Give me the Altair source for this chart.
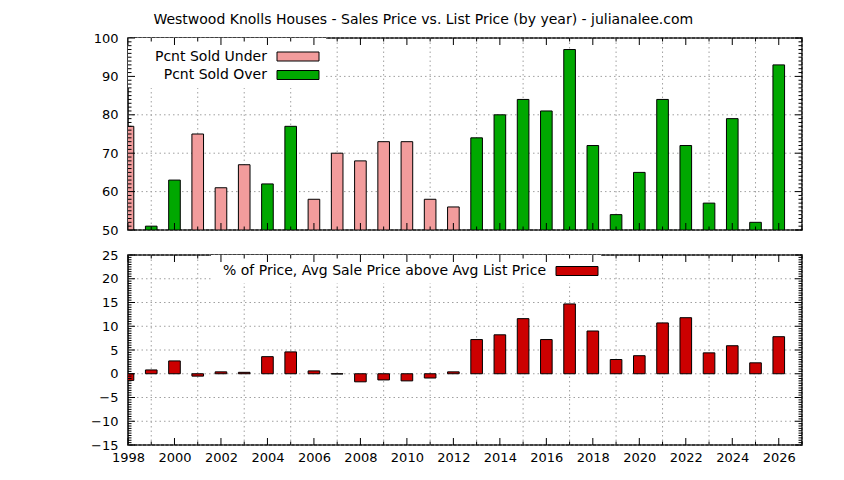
import altair as alt
import pandas as pd

# ---------------- data ----------------
years = list(range(1998, 2027))
sold_pct = [77, 51, 63, 75, 61, 67, 62, 77, 58, 70, 68, 73, 73, 58, 56,
            74, 80, 84, 81, 97, 72, 54, 65, 84, 72, 57, 79, 52, 93]
U, O = "Pcnt Sold Under", "Pcnt Sold Over"
sold_kind = [U, O, O, U, U, U, O, O, U, U, U, U, U, U, U,
             O, O, O, O, O, O, O, O, O, O, O, O, O, O]
avg_above = [-1.4, 0.8, 2.7, -0.5, 0.4, 0.3, 3.6, 4.6, 0.6, -0.05, -1.7, -1.3, -1.5, -0.9, 0.4,
             7.2, 8.2, 11.6, 7.2, 14.7, 9.0, 3.0, 3.8, 10.7, 11.8, 4.4, 5.9, 2.3, 7.8]
bottom_series = "% of Price, Avg Sale Price above Avg List Price"
title_text = "Westwood Knolls Houses - Sales Price vs. List Price (by year) - julianalee.com"

x_major = list(range(1998, 2027, 2))
x_minor = list(range(1999, 2028, 2))
top_y_major = list(range(50, 101, 10))
top_y_minor = [v for v in range(50, 101) if v % 10]
bot_y_major = list(range(-15, 26, 5))
bot_y_minor = [v / 2 for v in range(-30, 51) if v % 10]

# ---------------- styles ----------------
FONT = "DejaVu Sans"
W = 674
H_TOP = 192
H_BOT = 190
C_UNDER = "#f29c9c"
C_OVER = "#00a800"
C_RED = "#cc0000"
GRID = "#a0a0a0"

df_top = pd.DataFrame({"year": years, "pct": sold_pct, "kind": sold_kind})
df_bot = pd.DataFrame({"year": years, "val": avg_above})

xs = alt.Scale(domain=[1998, 2027], nice=False, zero=False)
fill_scale = alt.Scale(domain=[U, O], range=[C_UNDER, C_OVER])


def yaxis(vals):
    return alt.Axis(values=vals, labelPadding=10, minExtent=114, maxExtent=114, title=None,
                    ticks=False, domain=False, grid=False, format="d")


bot_x_axis = alt.Axis(values=x_major, format="d", labelPadding=6, ticks=False, title=None,
                      domain=False, grid=False, labelFlush=False)


def vrule(vals, H, xaxis, **mk):
    return alt.Chart(pd.DataFrame({"year": vals})).mark_rule(**mk).encode(
        x=alt.X("year:Q", scale=xs, axis=xaxis),
        y=alt.value(0), y2=alt.value(H))


def hrule(vals, ys, yax, **mk):
    return alt.Chart(pd.DataFrame({"v": vals})).mark_rule(**mk).encode(
        y=alt.Y("v:Q", scale=ys, axis=yax),
        x=alt.value(0), x2=alt.value(W))


def grid_layers(ys, y_major, H, xaxis, yax):
    return [
        vrule(x_minor, H, xaxis, color=GRID, strokeDash=[1.5, 3], strokeWidth=1),
        hrule(y_major, ys, yax, color=GRID, strokeDash=[1.5, 3], strokeWidth=1),
    ]


def border_ticks(ys, y_major, y_minor, H, xaxis, yax):
    return [
        vrule(x_major, H, xaxis, color="black", strokeWidth=1, strokeDash=[7, H - 14, 7, 0]),
        vrule(x_minor, H, xaxis, color="black", strokeWidth=1, strokeDash=[3.5, H - 7, 3.5, 0]),
        hrule(y_major, ys, yax, color="black", strokeWidth=1, strokeDash=[7, W - 14, 7, 0]),
        hrule(y_minor, ys, yax, color="black", strokeWidth=1, strokeDash=[3.5, W - 7, 3.5, 0]),
    ]


# ---------------- top panel ----------------
ys_top = alt.Scale(domain=[50, 100], nice=False, zero=False)
top_y_axis = yaxis(top_y_major)

top_legend_bg = alt.Chart(pd.DataFrame({"k": [1]})).mark_rect(fill="white").encode(
    x=alt.value(0), x2=alt.value(198), y=alt.value(0), y2=alt.value(50))

bars_top = alt.Chart(df_top).transform_calculate(
    x0="datum.year - 0.25", x1="datum.year + 0.25", base="50"
).mark_rect(stroke="black", strokeWidth=1, clip=True).encode(
    x=alt.X("x0:Q", scale=xs, axis=None),
    x2=alt.X2("x1"),
    y=alt.Y("pct:Q", scale=ys_top, axis=top_y_axis),
    y2=alt.Y2("base"),
    fill=alt.Fill("kind:N", scale=fill_scale, legend=None),
)

top_legend = []
for i, (name, col) in enumerate([(U, C_UNDER), (O, C_OVER)]):
    d = pd.DataFrame({"kind": [name]})
    yc = 18.5 + i * 18.5
    top_legend.append(alt.Chart(d).mark_text(
        align="right", baseline="middle", font=FONT, fontSize=14, color="black").encode(
        x=alt.value(139), y=alt.value(yc), text="kind:N"))
    top_legend.append(alt.Chart(d).mark_rect(stroke="black", strokeWidth=1, fill=col).encode(
        x=alt.value(149), x2=alt.value(191), y=alt.value(yc - 4.5), y2=alt.value(yc + 4.5)))

top = alt.layer(
    *grid_layers(ys_top, top_y_major, H_TOP, None, top_y_axis), top_legend_bg, bars_top,
    *border_ticks(ys_top, top_y_major, top_y_minor, H_TOP, None, top_y_axis), *top_legend
).properties(width=W, height=H_TOP)

# ---------------- bottom panel ----------------
ys_bot = alt.Scale(domain=[-15, 25], nice=False, zero=False)
bot_y_axis = yaxis(bot_y_major)

bot_legend_bg = alt.Chart(pd.DataFrame({"k": [1]})).mark_rect(fill="white").encode(
    x=alt.value(83), x2=alt.value(473), y=alt.value(0), y2=alt.value(28))

bars_bot = alt.Chart(df_bot).transform_calculate(
    x0="datum.year - 0.25", x1="datum.year + 0.25", base="0"
).mark_rect(stroke="black", strokeWidth=1, clip=True, fill=C_RED).encode(
    x=alt.X("x0:Q", scale=xs, axis=bot_x_axis),
    x2=alt.X2("x1"),
    y=alt.Y("val:Q", scale=ys_bot, axis=bot_y_axis),
    y2=alt.Y2("base"),
)

leg_bot = pd.DataFrame({"name": [bottom_series]})
leg_bot_text = alt.Chart(leg_bot).mark_text(
    align="right", baseline="middle", font=FONT, fontSize=14, color="black").encode(
    x=alt.value(418), y=alt.value(16), text="name:N")
leg_bot_sw = alt.Chart(leg_bot).mark_rect(stroke="black", strokeWidth=1, fill=C_RED).encode(
    x=alt.value(428), x2=alt.value(470), y=alt.value(11.5), y2=alt.value(20.5))

bottom = alt.layer(
    *grid_layers(ys_bot, bot_y_major, H_BOT, bot_x_axis, bot_y_axis), bot_legend_bg, bars_bot,
    *border_ticks(ys_bot, bot_y_major, bot_y_minor, H_BOT, bot_x_axis, bot_y_axis),
    leg_bot_text, leg_bot_sw
).properties(width=W, height=H_BOT)

chart = alt.vconcat(top, bottom, spacing=10).properties(
    title=alt.TitleParams(title_text, anchor="middle", dx=15, font=FONT, fontSize=14,
                          fontWeight="normal", color="black", offset=4),
).configure_view(stroke="black", strokeWidth=1.5).configure_axis(
    labelFont=FONT, labelFontSize=13, labelColor="black"
)

chart.save("out.html", embed_options={"renderer": "svg", "actions": False})
